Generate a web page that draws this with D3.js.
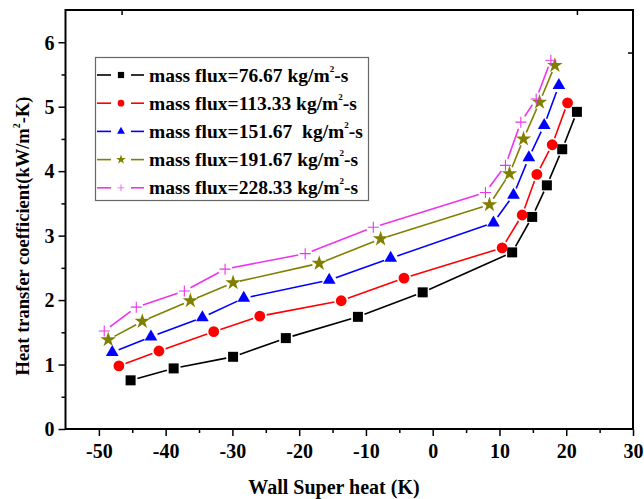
<!DOCTYPE html>
<html>
<head>
<meta charset="utf-8">
<script src="https://cdn.jsdelivr.net/npm/d3@7"></script>
<style>
  html, body { margin: 0; padding: 0; background: #fff; }
  svg text { font-family: "Liberation Serif", "Times New Roman", serif; font-weight: bold; fill: #000; }
</style>
</head>
<body>
<svg id="chart" width="644" height="499"></svg>
<script>
// Wall superheat (K) and heat transfer coefficient (kW/m²-K) for each mass flux
const flux76x  = [-45.25, -38.8, -29.9, -22.0, -11.2, -1.5, 11.9, 14.9, 17.1, 19.4, 21.6];
const flux76y  = [0.755, 0.94, 1.12, 1.41, 1.74, 2.12, 2.74, 3.29, 3.78, 4.34, 4.92];
const flux113x = [-47.0, -41.0, -32.8, -25.9, -13.7, -4.3, 10.4, 13.4, 15.6, 17.9, 20.2];
const flux113y = [0.98, 1.21, 1.51, 1.75, 1.99, 2.34, 2.81, 3.32, 3.95, 4.41, 5.06];
const flux151x = [-48.0, -42.2, -34.5, -28.3, -15.5, -6.3, 9.1, 12.1, 14.4, 16.7, 18.9];
const flux151y = [1.19, 1.43, 1.73, 2.03, 2.31, 2.65, 3.20, 3.63, 4.21, 4.71, 5.33];
const flux191x = [-48.6, -43.5, -36.3, -29.9, -17.0, -7.8, 8.5, 11.5, 13.6, 16.0, 18.3];
const flux191y = [1.385, 1.67, 1.99, 2.27, 2.57, 2.95, 3.48, 3.96, 4.50, 5.07, 5.64];
const flux228x = [-49.2, -44.4, -37.2, -31.1, -19.1, -8.9, 7.9, 10.9, 13.2, 15.5, 17.7];
const flux228y = [1.52, 1.89, 2.14, 2.48, 2.72, 3.13, 3.67, 4.09, 4.76, 5.12, 5.72];

const seriesNames = [
  ["mass flux=76.67 kg/m", "-s"],
  ["mass flux=113.33 kg/m", "-s"],
  ["mass flux=151.67\u00a0 kg/m", "-s"],
  ["mass flux=191.67 kg/m", "-s"],
  ["mass flux=228.33 kg/m", "-s"]
];
const xTicks = [-50, -40, -30, -20, -10, 0, 10, 20, 30];
const yTicks = [0, 1, 2, 3, 4, 5, 6];
// short inward ticks on the top and right frame edges
const topTicks = [-46.6, 21.6];
const rightTicks = [5.84];

const series = [
  { x: flux76x,  y: flux76y,  color: "#000000", marker: "square" },
  { x: flux113x, y: flux113y, color: "#ff0000", marker: "circle" },
  { x: flux151x, y: flux151y, color: "#0000ff", marker: "triangle" },
  { x: flux191x, y: flux191y, color: "#808000", marker: "star" },
  { x: flux228x, y: flux228y, color: "#ee33ee", marker: "plus" }
];

const svg = d3.select("#chart");
const plotL = 65.5, plotR = 633, plotT = 10, plotB = 429;

const x = d3.scaleLinear().domain([-55, 30]).range([plotL, plotR]);
const y = d3.scaleLinear().domain([0, 6.5]).range([plotB, plotT]);

// plain hyphen for negative tick labels
const fmt = d => String(d);

// marker shapes
function markerPath(kind) {
  switch (kind) {
    case "square":   return d3.symbol(d3.symbolSquare, 100)();
    case "circle":   return d3.symbol(d3.symbolCircle, 92)();
    case "triangle": return d3.symbol(d3.symbolTriangle, 70)();
    case "star":     return d3.symbol(d3.symbolStar, 75)();
    case "plus":     return "M-5.5,0H5.5M0,-5.5V5.5";
  }
}
function drawMarker(g, kind, color, cx, cy) {
  const p = g.append("path")
    .attr("d", markerPath(kind))
    .attr("transform", `translate(${cx},${cy})`);
  if (kind === "plus") {
    p.attr("fill", "none").attr("stroke", color).attr("stroke-width", 1.1);
  } else {
    p.attr("fill", color).attr("stroke", "none");
  }
}

// axes
const gx = svg.append("g").attr("transform", `translate(0,${plotB})`);
gx.call(d3.axisBottom(x).tickValues(xTicks).tickSize(7).tickFormat(fmt));
const gxMinor = svg.append("g").attr("transform", `translate(0,${plotB})`);
gxMinor.call(d3.axisBottom(x).tickValues(d3.range(-45, 30, 10)).tickSize(4).tickFormat(""));

const gy = svg.append("g").attr("transform", `translate(${plotL},0)`);
gy.call(d3.axisLeft(y).tickValues(yTicks).tickSize(7).tickFormat(fmt));
const gyMinor = svg.append("g").attr("transform", `translate(${plotL},0)`);
gyMinor.call(d3.axisLeft(y).tickValues(d3.range(0.5, 6.5, 1)).tickSize(4).tickFormat(""));

const gTop = svg.append("g").attr("transform", `translate(0,${plotT})`);
gTop.call(d3.axisBottom(x).tickValues(topTicks).tickSize(5).tickFormat(""));
const gRight = svg.append("g").attr("transform", `translate(${plotR},0)`);
gRight.call(d3.axisLeft(y).tickValues(rightTicks).tickSize(5).tickFormat(""));

[gx, gxMinor, gy, gyMinor, gTop, gRight].forEach(g => {
  g.select(".domain").remove();
  g.selectAll(".tick line").attr("stroke", "#000").attr("stroke-width", 1.5);
  g.selectAll(".tick text").attr("font-size", 20).attr("font-family", "Liberation Serif").attr("font-weight", "bold").attr("fill", "#000");
});
gx.selectAll(".tick text").attr("dy", "0.95em");
gy.selectAll(".tick text").attr("x", -11).attr("dy", "0.34em");

// frame
svg.append("rect")
  .attr("x", plotL).attr("y", plotT)
  .attr("width", plotR - plotL).attr("height", plotB - plotT)
  .attr("fill", "none").attr("stroke", "#000").attr("stroke-width", 2);

// axis titles
svg.append("text")
  .attr("x", 334).attr("y", 494)
  .attr("text-anchor", "middle").attr("font-size", 20)
  .text("Wall Super heat (K)");

const yt = svg.append("text")
  .attr("transform", `translate(29,236) rotate(-90)`)
  .attr("text-anchor", "middle").attr("font-size", 18.5);
yt.append("tspan").text("Heat transfer coefficient(kW/m");
yt.append("tspan").attr("font-size", 10).attr("dy", -9).text("2");
yt.append("tspan").attr("dy", 9).text("-K)");

// series: line segments broken around each marker, then markers
const gap = 7;
series.forEach(s => {
  const g = svg.append("g");
  const pts = s.x.map((v, i) => [x(v), y(s.y[i])]);
  for (let i = 0; i < pts.length - 1; i++) {
    const [x0, y0] = pts[i], [x1, y1] = pts[i + 1];
    const len = Math.hypot(x1 - x0, y1 - y0);
    if (len <= 2 * gap) continue;
    const ux = (x1 - x0) / len, uy = (y1 - y0) / len;
    g.append("line")
      .attr("x1", x0 + ux * gap).attr("y1", y0 + uy * gap)
      .attr("x2", x1 - ux * gap).attr("y2", y1 - uy * gap)
      .attr("stroke", s.color).attr("stroke-width", 1.6);
  }
  pts.forEach(([px, py]) => drawMarker(g, s.marker, s.color, px, py));
});

// legend
const lg = svg.append("g");
lg.append("rect")
  .attr("x", 95.5).attr("y", 57.5).attr("width", 273).attr("height", 143)
  .attr("fill", "#fff").attr("stroke", "#666").attr("stroke-width", 1.2);
series.forEach((s, i) => {
  const ry = 75 + i * 28.2;
  lg.append("line").attr("x1", 97).attr("x2", 111).attr("y1", ry).attr("y2", ry)
    .attr("stroke", s.color).attr("stroke-width", 1.6);
  lg.append("line").attr("x1", 131).attr("x2", 144).attr("y1", ry).attr("y2", ry)
    .attr("stroke", s.color).attr("stroke-width", 1.6);
  const mk = lg.append("g").attr("transform", `translate(121,${ry}) scale(0.62)`);
  drawMarker(mk, s.marker, s.color, 0, 0);
  const t = lg.append("text").attr("x", 149).attr("y", ry + 6.5).attr("font-size", 19.5);
  t.append("tspan").text(seriesNames[i][0]);
  t.append("tspan").attr("font-size", 9).attr("dy", -10).text("2");
  t.append("tspan").attr("dy", 10).text(seriesNames[i][1]);
});
</script>
</body>
</html>
